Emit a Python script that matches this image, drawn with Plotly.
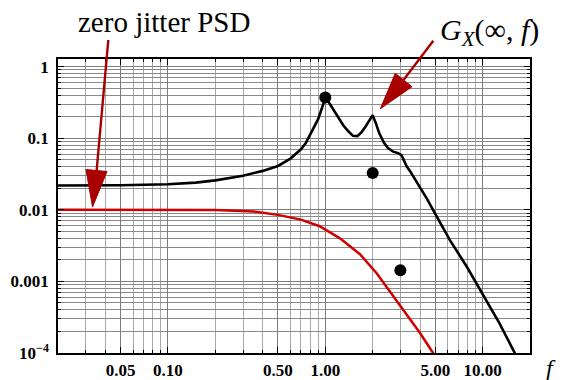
import plotly.graph_objects as go

# ---- data ----
black_f = [0.02, 0.05, 0.1, 0.15, 0.2, 0.3, 0.4, 0.5, 0.6, 0.7, 0.75, 0.8, 0.85, 0.9, 0.95, 1.0,
           1.05, 1.1, 1.2, 1.3, 1.4, 1.5, 1.6, 1.7, 1.8, 1.9, 2.0, 2.1, 2.2, 2.35, 2.5, 2.7,
           2.9, 3.05, 3.2, 3.3, 3.45, 3.8, 4.4, 4.84, 6.18, 7.9, 10.0, 12.8, 16.0, 20.0]
black_v = [0.0219, 0.0221, 0.0228, 0.0240, 0.0258, 0.030, 0.035, 0.041, 0.052, 0.070, 0.085, 0.110,
           0.140, 0.185, 0.26, 0.37, 0.32, 0.27, 0.195, 0.152, 0.125, 0.108, 0.107, 0.122, 0.145,
           0.175, 0.21, 0.16, 0.118, 0.088, 0.073, 0.065, 0.062, 0.058, 0.047, 0.040, 0.035, 0.025,
           0.0146, 0.0100, 0.0038, 0.00163, 0.00066, 0.00026, 0.0001, 0.00004]

red_f = [0.02, 0.1, 0.2, 0.35, 0.5, 0.7, 0.92, 1.24, 1.66, 2.12, 2.7, 2.98, 3.45, 4.0, 4.84, 5.5]
red_v = [0.01, 0.01, 0.00995, 0.0095, 0.0085, 0.0073, 0.0059, 0.0040, 0.0024, 0.0013, 0.00062,
         0.00045, 0.00029, 0.00019, 0.0001, 0.00006]

dot_f = [1.0, 2.0, 3.0]
dot_v = [0.37, 0.0326, 0.00143]

x_ticks = [0.05, 0.1, 0.5, 1.0, 5.0, 10.0]
x_ticktext = ["0.05", "0.10", "0.50", "1.00", "5.00", "10.00"]
y_ticks = [1, 0.1, 0.01, 0.001, 0.0001]
y_ticktext = ["1", "0.1", "0.01", "0.001", "10<sup>\u22124</sup>"]

# minor grid positions (1..9 per decade)
x_minor = [m * 10.0 ** k for k in range(-2, 2) for m in range(1, 10)]
y_minor = [m * 10.0 ** k for k in range(-4, 1) for m in range(1, 10)]

SERIF = "Liberation Serif, Times New Roman, serif"
DARKRED = "#A80000"

fig = go.Figure()
fig.add_trace(go.Scatter(x=red_f, y=red_v, mode="lines",
                         line=dict(color="#D00000", width=2.5), showlegend=False))
fig.add_trace(go.Scatter(x=black_f, y=black_v, mode="lines",
                         line=dict(color="black", width=2.6), showlegend=False))
fig.add_trace(go.Scatter(x=dot_f, y=dot_v, mode="markers",
                         marker=dict(color="black", size=12), showlegend=False))

# plot-area pixel frame used for annotation arrows
L, R, T, B = 58.0, 530.0, 59.0, 353.0
W, H = R - L, B - T


def px(x):
    return (x - L) / W


def py(y):
    return (B - y) / H


def arrow(x0, y0, xm, ym, tip, b1, b2):
    fig.add_shape(type="line", xref="paper", yref="paper",
                  x0=px(x0), y0=py(y0), x1=px(xm), y1=py(ym),
                  line=dict(color=DARKRED, width=2.4))
    path = "M {} {} L {} {} L {} {} Z".format(px(tip[0]), py(tip[1]), px(b1[0]), py(b1[1]),
                                              px(b2[0]), py(b2[1]))
    fig.add_shape(type="path", xref="paper", yref="paper", path=path,
                  fillcolor=DARKRED, line=dict(color=DARKRED, width=1))


arrow(108.3, 40, 96.5, 172, (92.5, 207), (86, 169.5), (107, 171.5))
arrow(433.3, 40.7, 403.5, 80, (380.3, 108.8), (395.3, 73.3), (412, 86.7))

fig.add_annotation(xref="paper", yref="paper", x=px(164), y=py(22), text="zero jitter PSD",
                   showarrow=False, font=dict(family=SERIF, size=29, color="black"),
                   xanchor="center", yanchor="middle")
fig.add_annotation(xref="paper", yref="paper", x=px(489), y=py(32),
                   text="<i>G</i><sub><i>X</i></sub>(\u221e, <i>f</i>)",
                   showarrow=False, font=dict(family=SERIF, size=30, color="black"),
                   xanchor="center", yanchor="middle")
fig.add_annotation(xref="paper", yref="paper", x=px(551), y=py(368), text="<i>f</i>",
                   showarrow=False, font=dict(family=SERIF, size=24, color="black"),
                   xanchor="center", yanchor="middle")

axis_common = dict(
    type="log", showline=True, linecolor="black", linewidth=1.5, mirror="ticks",
    ticks="inside", ticklen=6, tickwidth=1, tickcolor="black", automargin=False,
    showgrid=True, gridcolor="#7c7c7c", gridwidth=1, zeroline=False,
    tickfont=dict(family=SERIF, size=17, color="black", weight="bold"),
)

fig.update_xaxes(range=[-1.69897, 1.30103], tickmode="array", tickvals=x_ticks,
                 ticktext=x_ticktext, ticklabelstandoff=1,
                 minor=dict(tickmode="array", tickvals=x_minor, showgrid=True,
                            gridcolor="#a8a8a8", gridwidth=1, ticks="inside", ticklen=3,
                            tickcolor="black"),
                 **axis_common)
fig.update_yaxes(range=[-4, 0.107], tickmode="array", tickvals=y_ticks,
                 ticktext=y_ticktext, ticklabelstandoff=4,
                 minor=dict(tickmode="array", tickvals=y_minor, showgrid=True,
                            gridcolor="#8a8a8a", gridwidth=1, ticks="inside", ticklen=3,
                            tickcolor="black"),
                 **axis_common)

fig.update_layout(width=565, height=380, margin=dict(l=58, r=35, t=59, b=27),
                  plot_bgcolor="white", paper_bgcolor="white", template="none")

fig.write_html("out.html", config={"displayModeBar": False},
               post_script="document.body.style.margin='0';document.body.style.overflow='hidden';")
